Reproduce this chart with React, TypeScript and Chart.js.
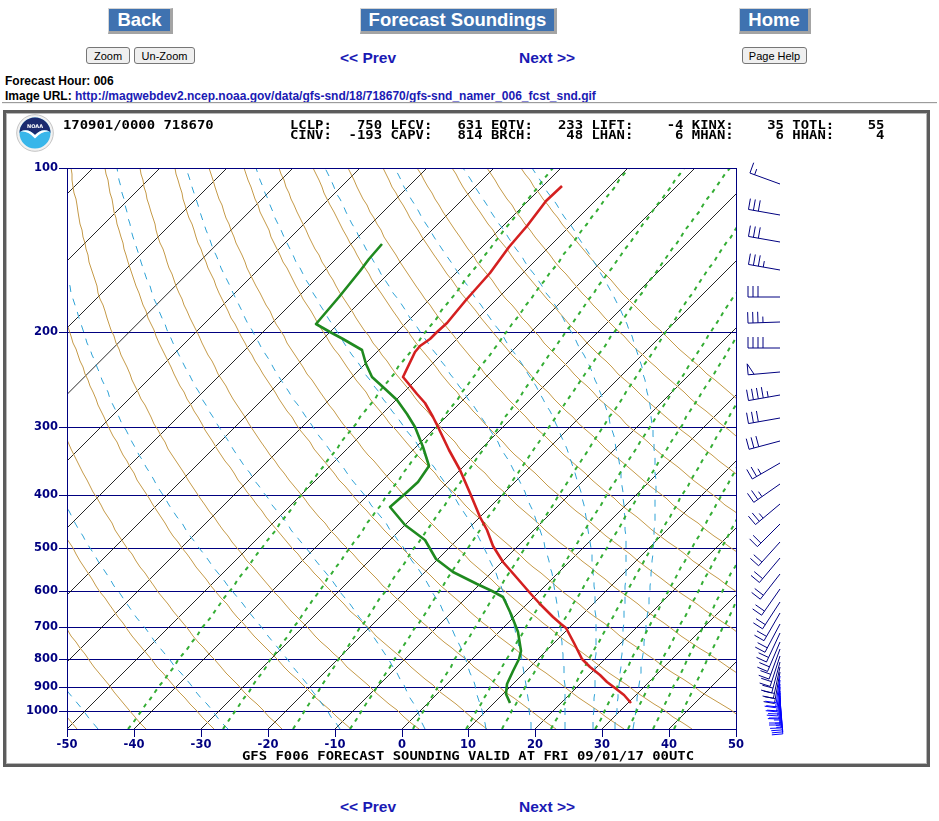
import React, { useEffect, useRef } from "react";
import { Chart, registerables } from "chart.js";

Chart.register(...registerables);

// ---------------- data ----------------
const PRESSURE_TICKS = [100, 200, 300, 400, 500, 600, 700, 800, 900, 1000];
const TEMP_TICKS = [-50, -40, -30, -20, -10, 0, 10, 20, 30, 40, 50];
const P_TOP = 100;
const P_BOT = 1077;
const T_LEFT = -50;
const T_RIGHT = 50;

// temperature profile (hPa, degC)
const TEMP_P = [963, 932, 907, 882, 857, 828, 799, 749, 703, 689, 670, 633, 606, 569, 530, 495, 464, 438, 397, 359, 330, 299, 287, 271, 260, 249, 242, 218, 213, 206, 200, 193, 175, 156, 140, 128, 115, 108];
const TEMP_C = [30.3, 28.1, 25.8, 23.6, 21.6, 18.9, 16.4, 12.9, 9.6, 8.1, 5.9, 1.9, -1.1, -5.3, -9.8, -13.8, -17.0, -20.0, -25.0, -30.0, -34.7, -39.7, -41.9, -45.2, -47.9, -50.7, -52.4, -54.4, -54.4, -54.1, -54.1, -53.9, -54.4, -54.9, -55.9, -56.4, -57.4, -57.1];

// dewpoint profile (hPa, degC)
const DEWP_P = [963, 929, 891, 841, 800, 773, 715, 661, 616, 599, 582, 554, 524, 484, 454, 420, 397, 378, 354, 326, 299, 283, 267, 253, 242, 229, 216, 206, 200, 194, 173, 155, 147, 138];
const DEWP_C = [12.3, 10.4, 9.1, 7.9, 7.1, 6.2, 2.9, -0.8, -4.6, -7.1, -10.5, -15.8, -20.3, -24.7, -30.0, -34.9, -34.5, -34.5, -35.2, -38.9, -43.2, -46.4, -49.9, -53.9, -57.1, -59.9, -62.6, -67.1, -70.1, -73.2, -73.8, -74.6, -75.1, -75.4];

// winds (hPa, deg from, knots)
const WIND_P = [107, 122, 137, 154, 173, 192, 214, 237, 262, 289, 318, 349, 382, 416, 451, 487, 523, 559, 594, 628, 660, 690, 718, 744, 768, 790, 810, 828, 845, 861, 876, 890, 903, 915, 926, 936, 945, 953, 960];
const WIND_DIR = [290, 280, 280, 280, 270, 268, 270, 265, 260, 260, 255, 240, 235, 230, 225, 222, 220, 218, 215, 213, 210, 208, 205, 203, 200, 198, 195, 192, 190, 188, 186, 184, 182, 180, 180, 178, 176, 175, 175];
const WIND_KT = [15, 30, 30, 35, 30, 35, 40, 50, 45, 30, 30, 25, 25, 25, 20, 20, 20, 20, 20, 20, 20, 20, 20, 20, 20, 20, 20, 20, 20, 20, 20, 20, 20, 20, 15, 15, 15, 15, 10];

// background line families
const ISOTHERMS_C = [-150, -140, -130, -120, -110, -100, -90, -80, -70, -60, -50, -40, -30, -20, -10, 0, 10, 20, 30, 40, 50];
const DRY_ADIABATS_K = [220, 230, 240, 250, 260, 270, 280, 290, 300, 310, 320, 330, 340, 350, 360, 370, 380, 390, 400];
const MOIST_THETA_E_C = [-50, -30, -10, 10, 30, 50, 70, 90, 110, 130];
const MIXING_RATIOS = [0.1, 0.4, 1, 2, 4, 7, 10, 16, 24, 32, 40, 48];

const HEADER_ID = "170901/0000 718670";
const HEADER_ROW1 = "LCLP:   750 LFCV:   631 EQTV:   233 LIFT:    -4 KINX:    35 TOTL:    55";
const HEADER_ROW2 = "CINV:  -193 CAPV:   814 BRCH:    48 LHAN:     6 MHAN:     6 HHAN:     4";
const FOOTER = "GFS F006 FORECAST SOUNDING VALID AT FRI 09/01/17 00UTC";
const IMAGE_URL = "http://magwebdev2.ncep.noaa.gov/data/gfs-snd/18/718670/gfs-snd_namer_006_fcst_snd.gif";

// ---------------- geometry / physics ----------------
const PLOT_W = 669;
const PLOT_H = 561;
const SKEW = (PLOT_H / Math.log(P_BOT / P_TOP)) / (PLOT_W / (T_RIGHT - T_LEFT));
const skewX = (t: number, p: number) => t + SKEW * Math.log(P_BOT / p);

const N_LEV = 90;
const LEVELS: number[] = [];
for (let i = 0; i <= N_LEV; i++) LEVELS.push(P_BOT * Math.pow(P_TOP / P_BOT, i / N_LEV));

const satVap = (t: number) => 6.112 * Math.exp((17.67 * t) / (t + 243.5));
function thetaE(t: number, p: number) {
  const e = satVap(t);
  if (e > 0.5 * p) return 1e9;
  const tk = t + 273.15;
  const r = (1000 * 0.622 * e) / (p - e);
  const th = tk * Math.pow(1000 / p, 0.2854 * (1 - 0.00028 * r));
  return th * Math.exp((3.376 / tk - 0.00254) * r * (1 + 0.00081 * r));
}
function tOnThetaE(thk: number, p: number) {
  let lo = -170, hi = 60;
  for (let k = 0; k < 60; k++) {
    const m = (lo + hi) / 2;
    if (thetaE(m, p) < thk) lo = m; else hi = m;
  }
  return (lo + hi) / 2;
}
function tdFromMix(w: number, p: number) {
  const e = (w * p) / (622 + w);
  const l = Math.log(e / 6.112);
  return (243.5 * l) / (17.67 - l);
}

const NAVY = "#000080";
const SANS = '"Liberation Sans", Arial, sans-serif';
const MONO = '"DejaVu Sans Mono", monospace';

function lineDs(data: any[], color: string, width: number, dash: number[] = []) {
  return {
    data,
    showLine: true,
    borderColor: color,
    backgroundColor: color,
    borderWidth: width,
    borderDash: dash,
    pointRadius: 0,
    pointHoverRadius: 0,
    tension: 0,
    fill: false,
    borderJoinStyle: "round",
  };
}

function buildDatasets() {
  const ds: any[] = [];
  ds.push(lineDs(TEMP_P.map((p, i) => ({ x: skewX(TEMP_C[i], p), y: p })), "#d42020", 2.6));
  ds.push(lineDs(DEWP_P.map((p, i) => ({ x: skewX(DEWP_C[i], p), y: p })), "#1f8a1f", 2.6));
  MIXING_RATIOS.forEach((w) => {
    ds.push(lineDs(LEVELS.map((p) => ({ x: skewX(tdFromMix(w, p), p), y: p })), "#34ad34", 2, [4, 5]));
  });
  MOIST_THETA_E_C.forEach((c) => {
    const thk = c + 273.15;
    ds.push(lineDs(LEVELS.map((p) => ({ x: skewX(tOnThetaE(thk, p), p), y: p })), "#2ea2d6", 1, [7, 7]));
  });
  DRY_ADIABATS_K.forEach((th) => {
    ds.push(lineDs(LEVELS.map((p) => ({ x: skewX(th * Math.pow(p / 1000, 0.2857) - 273.15, p), y: p })), "#c59a48", 1));
  });
  ISOTHERMS_C.forEach((t) => {
    ds.push(lineDs([{ x: skewX(t, P_BOT), y: P_BOT }, { x: skewX(t, P_TOP), y: P_TOP }], "#101010", 0.9));
  });
  return ds;
}

// crisp navy isobars drawn under the data lines
const isobarPlugin = {
  id: "isobars",
  beforeDatasetsDraw(chart: any) {
    const { ctx, chartArea: a } = chart;
    const ys = chart.scales.y;
    ctx.save();
    ctx.strokeStyle = NAVY;
    ctx.lineWidth = 1;
    ctx.beginPath();
    PRESSURE_TICKS.forEach((p) => {
      const y = Math.round(ys.getPixelForValue(p)) + 0.5;
      ctx.moveTo(Math.round(a.left), y);
      ctx.lineTo(Math.round(a.right) + 1, y);
    });
    ctx.stroke();
    ctx.restore();
  },
};

const framePlugin = {
  id: "plotFrame",
  afterDatasetsDraw(chart: any) {
    const { ctx, chartArea: a } = chart;
    ctx.save();
    ctx.strokeStyle = NAVY;
    ctx.lineWidth = 1;
    ctx.strokeRect(Math.round(a.left) + 0.5, Math.round(a.top) + 0.5, Math.round(a.right - a.left), Math.round(a.bottom - a.top));
    ctx.restore();
  },
};

const barbPlugin = {
  id: "windBarbs",
  afterDraw(chart: any) {
    const { ctx, chartArea } = chart;
    const ys = chart.scales.y;
    const baseX = chartArea.right + 44;
    const L = 32, F = 11, STEP = 5;
    ctx.save();
    ctx.lineWidth = 1;
    for (let i = 0; i < WIND_P.length; i++) {
      const py = ys.getPixelForValue(WIND_P[i]);
      const a = (WIND_DIR[i] * Math.PI) / 180;
      const sx = Math.sin(a), sy = -Math.cos(a);
      const nx = -sy, ny = sx;
      const tx = baseX + sx * L, ty = py + sy * L;
      ctx.strokeStyle = WIND_P[i] > 860 ? "#0000ff" : NAVY;
      ctx.beginPath();
      ctx.moveTo(baseX, py);
      ctx.lineTo(tx, ty);
      ctx.stroke();
      let spd = Math.round(WIND_KT[i] / 5) * 5;
      let pos = 0;
      while (spd >= 50) {
        const qx = tx - sx * pos, qy = ty - sy * pos;
        const rx = tx - sx * (pos + 6), ry = ty - sy * (pos + 6);
        ctx.beginPath();
        ctx.moveTo(qx, qy);
        ctx.lineTo(qx + nx * F, qy + ny * F);
        ctx.lineTo(rx, ry);
        ctx.stroke();
        pos += 8;
        spd -= 50;
      }
      while (spd >= 10) {
        const qx = tx - sx * pos, qy = ty - sy * pos;
        ctx.beginPath();
        ctx.moveTo(qx, qy);
        ctx.lineTo(qx + nx * F, qy + ny * F);
        ctx.stroke();
        pos += STEP;
        spd -= 10;
      }
      if (spd >= 5) {
        const qx = tx - sx * pos, qy = ty - sy * pos;
        ctx.beginPath();
        ctx.moveTo(qx, qy);
        ctx.lineTo(qx + nx * F * 0.55, qy + ny * F * 0.55);
        ctx.stroke();
      }
    }
    ctx.restore();
  },
};

const tickFont = { family: '"DejaVu Sans"', size: 11.5, weight: "bold" as const };

function Txt(props: { x: number; cy: number; size: number; children: any; style?: any }) {
  const L = Math.round(props.size * 1.25);
  return (
    <div
      style={{
        position: "absolute",
        left: props.x,
        top: props.cy - L / 2,
        height: L,
        lineHeight: L + "px",
        fontSize: props.size,
        whiteSpace: "pre",
        fontFamily: SANS,
        ...props.style,
      }}
    >
      {props.children}
    </div>
  );
}

function Mono(props: { x: number; cy: number; text: string }) {
  return (
    <div
      style={{
        position: "absolute",
        left: props.x,
        top: props.cy - 7,
        height: 14,
        lineHeight: "14px",
        fontFamily: MONO,
        fontWeight: "bold",
        fontSize: 13.92,
        whiteSpace: "pre",
        color: "#000",
        transform: "scaleY(0.82)",
        transformOrigin: "0 50%",
      }}
    >
      {props.text}
    </div>
  );
}

function BlueButton(props: { x: number; w: number; label: string }) {
  return (
    <div
      style={{
        position: "absolute",
        left: props.x,
        top: 8,
        width: props.w,
        height: 26,
        boxSizing: "border-box",
        background: "#3f72b0",
        borderStyle: "solid",
        borderWidth: "1px 3px 3px 1px",
        borderColor: "#d4d4d4 #a4a4a4 #a4a4a4 #d4d4d4",
        color: "#fff",
        fontFamily: SANS,
        fontWeight: "bold",
        fontSize: 18.5,
        display: "flex",
        alignItems: "center",
        justifyContent: "center",
        whiteSpace: "nowrap",
      }}
    >
      {props.label}
    </div>
  );
}

function GrayButton(props: { x: number; w: number; label: string }) {
  return (
    <div
      style={{
        position: "absolute",
        left: props.x,
        top: 47,
        width: props.w,
        height: 17,
        boxSizing: "border-box",
        background: "#efefef",
        border: "1px solid #767676",
        borderRadius: 3,
        color: "#000",
        fontFamily: SANS,
        fontSize: 11,
        display: "flex",
        alignItems: "center",
        justifyContent: "center",
        whiteSpace: "nowrap",
      }}
    >
      {props.label}
    </div>
  );
}

const LINK = "#1a1ab4";

export default function App() {
  const ref = useRef<HTMLCanvasElement | null>(null);

  useEffect(() => {
    if (!ref.current) return;
    const chart = new Chart(ref.current, {
      type: "scatter",
      data: { datasets: buildDatasets() },
      options: {
        animation: false,
        responsive: false,
        devicePixelRatio: 1,
        events: [],
        layout: { padding: { left: 0, top: 55, right: 191, bottom: 10 } },
        plugins: { legend: { display: false }, tooltip: { enabled: false }, title: { display: false } },
        scales: {
          x: {
            type: "linear",
            position: "bottom",
            min: T_LEFT,
            max: T_RIGHT,
            alignToPixels: true,
            afterBuildTicks: (s: any) => {
              s.ticks = TEMP_TICKS.map((v) => ({ value: v }));
            },
            afterFit: (s: any) => {
              s.height = 25;
            },
            ticks: { callback: (v: any) => String(v), color: NAVY, font: tickFont, padding: 1, autoSkip: false, maxRotation: 0 },
            grid: { drawOnChartArea: false, drawTicks: true, tickLength: 8, color: NAVY, lineWidth: 1 },
            border: { display: true, color: NAVY, width: 1 },
          },
          y: {
            type: "logarithmic",
            position: "left",
            min: P_TOP,
            max: P_BOT,
            reverse: true,
            alignToPixels: true,
            afterBuildTicks: (s: any) => {
              s.ticks = PRESSURE_TICKS.map((v) => ({ value: v }));
            },
            afterFit: (s: any) => {
              s.width = 61;
            },
            ticks: { callback: (v: any) => String(v), color: NAVY, font: tickFont, padding: 1, autoSkip: false },
            grid: { drawOnChartArea: false, drawTicks: true, tickLength: 8, color: NAVY, lineWidth: 1 },
            border: { display: true, color: NAVY, width: 1 },
          },
        },
      } as any,
      plugins: [isobarPlugin, framePlugin, barbPlugin],
    } as any);
    return () => chart.destroy();
  }, []);

  return (
    <div style={{ position: "absolute", left: 0, top: 0, width: 939, height: 821, background: "#fff", overflow: "hidden" }}>
      <BlueButton x={108} w={65} label="Back" />
      <BlueButton x={360} w={197} label="Forecast Soundings" />
      <BlueButton x={739} w={72} label="Home" />

      <GrayButton x={86} w={44} label="Zoom" />
      <GrayButton x={134} w={61} label="Un-Zoom" />
      <GrayButton x={742} w={65} label="Page Help" />

      <Txt x={340} cy={57} size={15.5} style={{ fontWeight: "bold", color: LINK }}>{"<< Prev"}</Txt>
      <Txt x={519} cy={57} size={15.5} style={{ fontWeight: "bold", color: LINK }}>{"Next >>"}</Txt>

      <Txt x={5} cy={81} size={12} style={{ fontWeight: "bold", color: "#000" }}>Forecast Hour: 006</Txt>
      <Txt x={5} cy={96} size={12} style={{ fontWeight: "bold", color: "#000" }}>
        {"Image URL: "}
        <span style={{ color: LINK }}>{IMAGE_URL}</span>
      </Txt>

      <div style={{ position: "absolute", left: 2, top: 102, width: 935, height: 0, borderTop: "1px solid #9c9c9c", borderBottom: "1px solid #eeeeee" }} />

      <div
        style={{
          position: "absolute",
          left: 3,
          top: 110,
          width: 927,
          height: 657,
          boxSizing: "border-box",
          border: "3px solid #5c5c5c",
          boxShadow: "inset 0 0 0 1px #b8b8b8",
          background: "#fff",
        }}
      />
      <canvas ref={ref} width={921} height={651} style={{ position: "absolute", left: 6, top: 113, width: 921, height: 651 }} />

      <svg width="38" height="38" viewBox="0 0 38 38" style={{ position: "absolute", left: 16, top: 114 }}>
        <circle cx="19" cy="19" r="18.3" fill="#f2f2f2" stroke="#c4c4c4" strokeWidth="1" />
        <circle cx="19" cy="19" r="15.5" fill="#38b6ea" />
        <path d="M3.5,19 A15.5,15.5 0 0 1 34.5,19 L33.6,17.6 Q26,13.5 19,21 Q12,13.5 4.4,17.6 Z" fill="#1b2a6e" />
        <path d="M4.4,17.6 Q12,13.5 19,21 Q26,13.5 33.6,17.6 Q26,16.5 19,24.5 Q12,16.5 4.4,17.6 Z" fill="#ffffff" />
        <text x="19" y="13.5" fontSize="5" fill="#ffffff" textAnchor="middle" fontFamily="DejaVu Sans" fontWeight="bold">NOAA</text>
      </svg>

      <Mono x={63} cy={124.5} text={HEADER_ID} />
      <Mono x={290} cy={124.5} text={HEADER_ROW1} />
      <Mono x={290} cy={134.5} text={HEADER_ROW2} />
      <Mono x={242} cy={756} text={FOOTER} />

      <Txt x={340} cy={806} size={15.5} style={{ fontWeight: "bold", color: LINK }}>{"<< Prev"}</Txt>
      <Txt x={519} cy={806} size={15.5} style={{ fontWeight: "bold", color: LINK }}>{"Next >>"}</Txt>
    </div>
  );
}
